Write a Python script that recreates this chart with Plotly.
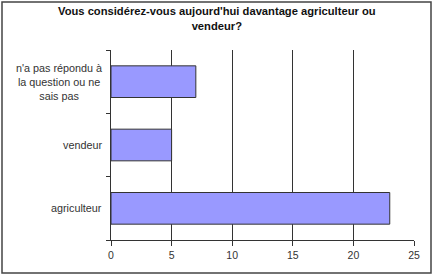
import plotly.graph_objects as go

categories = ["agriculteur", "vendeur", "n'a pas répondu à<br>la question ou ne<br>sais pas"]
values = [23, 5, 7]
x_ticks = [0, 5, 10, 15, 20, 25]

W, H = 433, 276
L, R, T, B = 111, 19, 50, 36
pw, ph = W - L - R, H - T - B

fig = go.Figure(go.Bar(
    y=categories, x=values, orientation="h",
    marker=dict(color="#9999FF", line=dict(color="#333333", width=1)),
    width=0.5,
))

def px(xp):
    return (xp - L) / pw

def py(yp):
    return (H - B - yp) / ph

fig.add_shape(type="rect", xref="paper", yref="paper",
              x0=px(2), x1=px(431), y0=py(273), y1=py(2),
              line=dict(color="#444444", width=1.5), fillcolor="rgba(0,0,0,0)")

fig.add_annotation(text="<b>Vous considérez-vous aujourd'hui davantage agriculteur ou<br>vendeur?</b>",
                   xref="paper", yref="paper", x=px(217), y=py(3), xanchor="center", yanchor="top",
                   showarrow=False, align="center",
                   font=dict(family="Liberation Sans, Arial", size=11.2, color="#111111"))

for c in categories:
    fig.add_annotation(text=c, xref="paper", yref="y", x=px(104), y=c, xanchor="right",
                       yanchor="middle", showarrow=False, align="center",
                       font=dict(family="Liberation Sans, Arial", size=10.8, color="#333333"))

fig.update_layout(
    width=W, height=H,
    margin=dict(l=L, r=R, t=T, b=B),
    paper_bgcolor="white", plot_bgcolor="white",
    showlegend=False,
    font=dict(family="Liberation Sans, Arial", size=10, color="#333333"),
    xaxis=dict(range=[0, 25], tickvals=x_ticks, showgrid=True, gridcolor="#333333", gridwidth=1,
               zeroline=False, showline=True, linecolor="#333333", linewidth=1,
               ticks="outside", ticklen=5, tickcolor="#333333",
               tickfont=dict(size=10.5, color="#333333")),
    yaxis=dict(showgrid=False, showline=True, linecolor="#333333", linewidth=1,
               ticks="outside", ticklen=4, tickcolor="#333333", tickson="boundaries",
               showticklabels=False, range=[-0.5, 2.5]),
    bargap=0.5,
)

fig.write_html("out.html")
